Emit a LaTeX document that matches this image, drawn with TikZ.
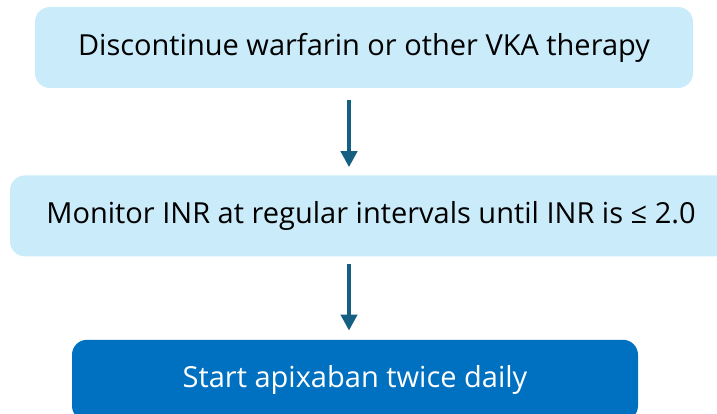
\documentclass[tikz,border=0pt]{standalone}
\usepackage{fontspec}
\setmainfont{Open Sans}
\usetikzlibrary{positioning, arrows.meta}

\definecolor{lightbox}{HTML}{CAECFA}
\definecolor{darkbox}{HTML}{0070C0}
\definecolor{arrowblue}{HTML}{156082}

\begin{document}
\begin{tikzpicture}[
                x = 1pt, y = -1pt,
                > = {Triangle[width=16pt, length=16pt]}, % arrow head style
                node distance = 87pt, % distance between boxes
                font = \fontsize{29}{34}\selectfont
            ]

            \tikzset{stepbox/.style={rounded corners = 15pt, minimum height = 81pt,
            inner sep = 0pt},
            lightstep/.style={stepbox, fill = lightbox, text = black},
            darkstep/.style={stepbox, fill = darkbox, text = white},
            flow/.style={->, draw = arrowblue, line width = 4pt}}

            \clip (0,0) rectangle (717,414);
            \useasboundingbox (0,0) rectangle (717,414);

            \node (disc) [lightstep, minimum width = 658pt] at (364,47.5)
            {Discontinue warfarin or other VKA therapy};
            \node (monitor) [lightstep, minimum width = 722pt, below = of disc,
            xshift = 7pt] {Monitor INR at regular intervals until INR is ≤ 2.0};
            \node (start) [darkstep, minimum width = 566pt, below = 83pt of monitor,
            xshift = -16pt] {Start apixaban twice daily};

            \draw[flow] ([xshift=-15pt, yshift=-12pt]disc.south) --
            ([xshift=-22pt, yshift=8pt]monitor.north);
            \draw[flow] ([xshift=-22pt, yshift=-7pt]monitor.south) --
            ([xshift=-6pt, yshift=9pt]start.north);

        \end{tikzpicture}
\end{document}
